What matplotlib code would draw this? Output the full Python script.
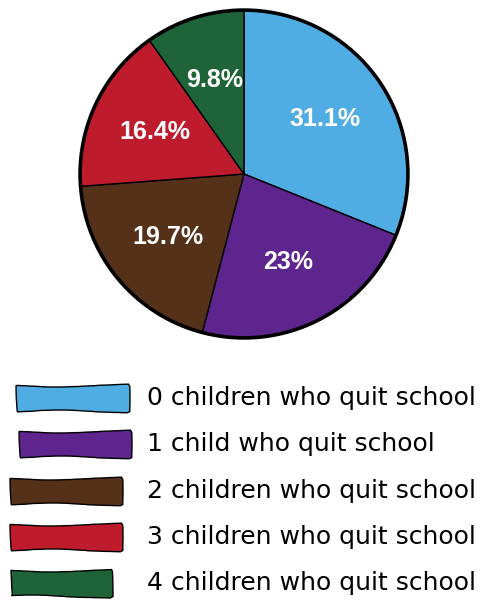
import matplotlib
matplotlib.use("Agg")
import matplotlib.pyplot as plt
from matplotlib.patches import Rectangle, Circle

categories = [
    "0 children who quit school",
    "1 child who quit school",
    "2 children who quit school",
    "3 children who quit school",
    "4 children who quit school",
]
shares = [31.1, 23.0, 19.7, 16.4, 9.8]
pct_labels = ["31.1%", "23%", "19.7%", "16.4%", "9.8%"]
colors = ["#4FADE3", "#5E258E", "#55311A", "#BE1C2D", "#1F6338"]

W, H = 483, 601
fig = plt.figure(figsize=(W / 100, H / 100), dpi=100)

# Pie area
cx, cy, r = 244, 174, 164
ax = fig.add_axes([(cx - r - 4) / W, 1 - (cy + r + 4) / H, (2 * r + 8) / W, (2 * r + 8) / H])
wedges, texts = ax.pie(
    shares,
    colors=colors,
    startangle=90,
    counterclock=False,
    radius=1.0,
    wedgeprops=dict(edgecolor="black", linewidth=1.0),
    labels=pct_labels,
    labeldistance=0.6,
    textprops=dict(color="white", fontsize=18, fontweight="bold",
                   family="Liberation Sans", ha="center", va="center"),
)
ax.add_patch(Circle((0, 0), 1.0, fill=False, edgecolor="black", linewidth=2.6, zorder=5))
ax.set_xlim(-1.025, 1.025)
ax.set_ylim(-1.025, 1.025)
ax.set_aspect("equal")
ax.axis("off")

# Legend with hand-drawn swatches
lax = fig.add_axes([0, 0, 1, 1])
lax.set_xlim(0, W)
lax.set_ylim(H, 0)
lax.axis("off")
row_y = [398, 444, 491, 537, 583]
swatch_x = [17, 20, 11, 11, 11]
swatch_w = [111, 110, 110, 110, 100]
for y, x0, w, col, lab in zip(row_y, swatch_x, swatch_w, colors, categories):
    rect = Rectangle((x0, y - 13), w, 26, facecolor=col, edgecolor="black", linewidth=1.0)
    rect.set_sketch_params(scale=1.5, length=220, randomness=4)
    lax.add_patch(rect)
    lax.text(147, y, lab, fontsize=18, family="DejaVu Sans", va="center", ha="left",
             color="black")

fig.savefig("out.png", dpi=100)
